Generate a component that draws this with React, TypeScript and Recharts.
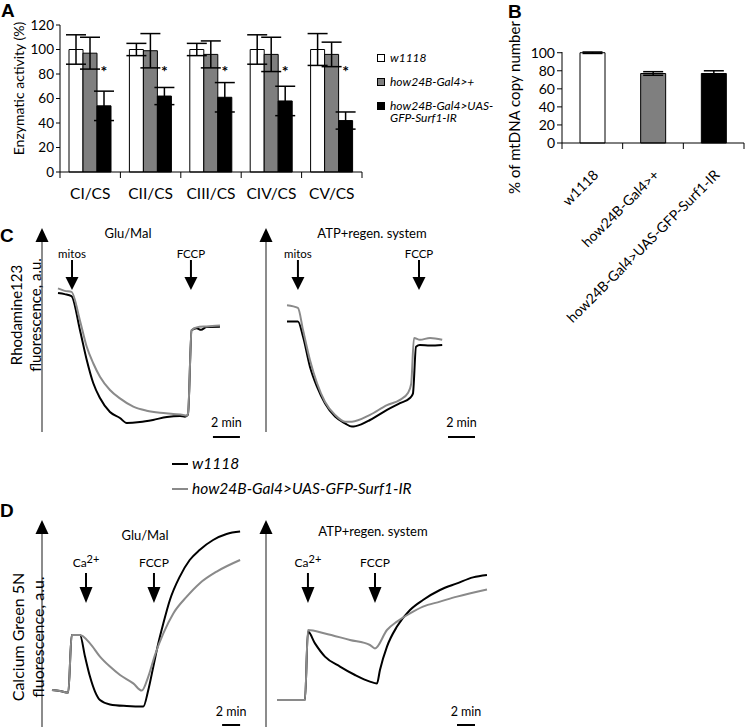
import React from "react";
import {
  BarChart, Bar, XAxis, YAxis, ErrorBar, Cell, LabelList, Legend,
  LineChart, Line, ReferenceLine
} from "recharts";

const FONT = "Lato, 'Open Sans', sans-serif";

// ---- A: enzymatic activity (% of control) ----
const complexes = ["CI/CS", "CII/CS", "CIII/CS", "CIV/CS", "CV/CS"];
const wtActivity = [100, 100, 100, 100, 100];
const wtErr = [12, 5, 5, 12, 13];
const gal4Activity = [97, 99, 96, 96, 96];
const gal4Err = [13, 14, 11, 14, 10];
const rnaiActivity = [54, 62, 61, 58, 42];
const rnaiErr = [12, 7, 12, 12, 7];
const SIG_LEVEL = 85;
const aTicks = [0, 20, 40, 60, 80, 100, 120];

const genotypes = ["w1118", "how24B-Gal4>+", "how24B-Gal4>UAS-GFP-Surf1-IR"];

// ---- B: mtDNA copy number ----
const mtdnaCopy = [100, 77, 77];
const mtdnaErr = [0.8, 2, 3];
const bTicks = [0, 20, 40, 60, 80, 100];
const barFills = ["#ffffff", "#7f7f7f", "#000000"];

// trace colours: w1118 black, RNAi gray
const traceColors = ["#000000", "#8a8a8a"];
const traceNames = [genotypes[0], genotypes[2]];

// ---- C: Rhodamine123 traces, [time min, a.u.] ----
const rhoGluBlack = [[0, 72.4], [0.5, 71.8], [1.0, 70.8], [1.63, 53], [2.13, 37.5], [2.61, 25.5], [3.11, 17.7], [3.85, 10.4], [4.59, 7.3], [5.09, 4.7], [6.07, 5.2], [7.04, 6.3], [8.07, 7.8], [9.04, 8.3], [9.41, 8], [9.63, 9], [9.9, 53], [10.27, 54], [10.6, 53.2], [11.01, 54.7], [12, 54.8]];
const rhoGluGray = [[0, 74.8], [0.5, 73.5], [1.0, 73], [1.63, 58], [2.13, 44.4], [2.61, 35.8], [3.11, 28.8], [3.85, 21.9], [4.59, 17.5], [5.58, 13.2], [6.57, 11.1], [7.56, 10], [8.54, 9.4], [9.28, 8.9], [9.5, 8.5], [9.63, 9.5], [9.9, 53], [10.27, 54.5], [11.01, 55], [12, 55.5]];
const rhoAtpBlack = [[0, 57.5], [0.81, 57.5], [1.19, 49.6], [1.7, 34], [2.22, 23.6], [2.81, 15], [3.56, 8], [4.3, 4.5], [4.81, 2.8], [5.5, 4], [6.15, 6.25], [7.41, 11.5], [8.37, 15], [9.11, 17.7], [9.33, 20], [9.56, 44.4], [9.85, 45.3], [10.6, 45], [11.5, 45.3]];
const rhoAtpGray = [[0, 66], [0.81, 64.6], [1.19, 53], [1.7, 37.5], [2.22, 25.5], [2.81, 15.8], [3.56, 8.9], [4.3, 5.4], [4.81, 5.4], [6.15, 8.9], [7.41, 14], [8.37, 16.7], [8.96, 20.3], [9.2, 25], [9.41, 49], [9.85, 48], [10.6, 49], [11.5, 48]];

// ---- D: Calcium Green 5N traces, [time min, a.u.] ----
const caGluBlack = [[0, 18.5], [0.89, 18], [1.81, 17.2], [2.19, 46], [3.11, 46], [3.67, 35.2], [4.22, 25.2], [4.78, 17.7], [5.33, 13.5], [6.44, 11.3], [8.3, 10.5], [10.14, 10.2], [10.7, 18.5], [11.26, 30.2], [11.81, 41.8], [12.37, 51.8], [13.1, 63.5], [14.2, 75.2], [15.3, 83.5], [16.4, 88.5], [17.9, 93.5], [19.4, 96.5], [20.9, 97.7]];
const caGluGray = [[0, 18.5], [0.89, 18], [1.81, 17.2], [2.19, 46], [3.11, 46], [4.22, 41.8], [5.33, 35.2], [6.44, 30.2], [7.56, 26], [9.03, 21.8], [9.97, 18.2], [10.7, 25.2], [11.44, 36], [12.37, 46.8], [13.48, 56.8], [14.97, 65.2], [16.4, 71.8], [18.3, 77.7], [20.9, 83.5]];
const caAtpBlack = [[0, 13.5], [3.11, 13.5], [3.44, 47.7], [4.22, 41.8], [5.33, 35.2], [7, 30.2], [8.67, 26], [10.33, 22.7], [11.11, 21.8], [11.44, 28.5], [12.22, 40.2], [13.33, 50.2], [14.78, 58.5], [16.22, 63.5], [18.11, 68.5], [20, 71.8], [21.78, 74.8], [23.33, 76]];
const caAtpGray = [[0, 13.5], [3.11, 13.5], [3.44, 48.5], [5.33, 46.8], [8.11, 43.5], [10.33, 41], [10.89, 39.3], [12.22, 48.5], [13.33, 52.7], [14.78, 56.8], [16.22, 60.2], [18.11, 62.7], [20, 65.2], [23.33, 68.8]];

const aData = complexes.map((c, i) => ({
  cat: c,
  wt: wtActivity[i], wtErr: wtErr[i],
  gal4: gal4Activity[i], gal4Err: gal4Err[i],
  rnai: rnaiActivity[i], rnaiErr: rnaiErr[i],
}));
const bData = genotypes.map((g, i) => ({ g, v: mtdnaCopy[i], err: mtdnaErr[i] }));
const toPts = (arr: number[][]) => arr.map(([t, v]) => ({ t, v }));

const A_BAND = 302 / complexes.length;
const B_BAND = 182 / genotypes.length;

const ATick = (props: any) => {
  const { x, y, payload, index } = props;
  return (
    <g>
      <line x1={x - A_BAND / 2} y1={y} x2={x - A_BAND / 2} y2={y + 6} stroke="#000" />
      {index === complexes.length - 1 && (
        <line x1={x + A_BAND / 2} y1={y} x2={x + A_BAND / 2} y2={y + 6} stroke="#000" />
      )}
      <text x={x} y={y + 21} textAnchor="middle" dominantBaseline="central" fontFamily={FONT} fontSize={15.5} fill="#000">
        {payload.value}
      </text>
    </g>
  );
};

const BTick = (props: any) => {
  const { x, y, payload, index } = props;
  const lx = x + 3, ly = y + 29;
  return (
    <g>
      <line x1={x - B_BAND / 2} y1={y} x2={x - B_BAND / 2} y2={y + 6} stroke="#000" />
      {index === genotypes.length - 1 && (
        <line x1={x + B_BAND / 2} y1={y} x2={x + B_BAND / 2} y2={y + 6} stroke="#000" />
      )}
      <text x={lx} y={ly} textAnchor="end" dominantBaseline="central" transform={`rotate(-45, ${lx}, ${ly})`}
        fontFamily={FONT} fontSize={14} fill="#000">
        {payload.value}
      </text>
    </g>
  );
};

// legends keep the series order of the figure
const barLegend = () => (
  <div style={{ fontFamily: FONT, fontStyle: "italic", fontSize: 12, lineHeight: "12px", color: "#000" }}>
    {genotypes.map((name, i) => (
      <div key={i} style={{ display: "flex", alignItems: "flex-start", marginBottom: 12 }}>
        <span style={{ width: 6, height: 6, background: barFills[i], border: "1px solid #000", marginTop: 2, marginRight: 5, flex: "none" }} />
        <span style={{ whiteSpace: "pre" }}>{name.replace("UAS-", "UAS-\n")}</span>
      </div>
    ))}
  </div>
);

const lineLegend = () => (
  <div style={{ fontFamily: FONT, fontStyle: "italic", fontSize: 15.5, lineHeight: "25px", color: "#000", whiteSpace: "nowrap" }}>
    {traceNames.map((name, i) => (
      <div key={i} style={{ display: "flex", alignItems: "center" }}>
        <span style={{ width: 16, height: 2, background: traceColors[i], marginRight: 4, flex: "none" }} />
        <span>{name}</span>
      </div>
    ))}
  </div>
);

const asterisk = (p: any) => {
  const vb = p.viewBox || p;
  const { x, y, width, height } = vb;
  const v = Number(p.value);
  if (!v) return null;
  const yy = y + height - (SIG_LEVEL * height) / v;
  return (
    <text x={x + width / 2} y={yy + 3} textAnchor="middle" dominantBaseline="central" fontFamily={FONT} fontSize={16} fontWeight="bold" fill="#000">*</text>
  );
};

type Geo = { text: number; shaft: number; head: number; tip: number; font: number };
const GEO_C: Geo = { text: 13, shaft: 20, head: 37, tip: 50, font: 11.5 };
const GEO_D: Geo = { text: 35, shaft: 46, head: 60, tip: 76, font: 12 };

const eventLabel = (label: string, g: Geo) => (props: any) => {
  const vb = props.viewBox || {};
  const x = vb.x, top = vb.y;
  return (
    <g>
      <text x={x} y={top + g.text} textAnchor="middle" dominantBaseline="central" fontFamily={FONT} fontSize={g.font} fill="#000">
        {label === "Ca2+" ? (<>Ca<tspan fontSize={g.font - 1} dy={-4}>2+</tspan></>) : label}
      </text>
      <line x1={x} y1={top + g.shaft} x2={x} y2={top + g.head} stroke="#000" strokeWidth={2} />
      <polygon points={`${x - 6.5},${top + g.head} ${x + 6.5},${top + g.head} ${x},${top + g.tip}`} fill="#000" />
    </g>
  );
};

const scaleLabel = (props: any) => {
  const vb = props.viewBox || {};
  return (
    <text x={vb.x + vb.width / 2} y={vb.y - 14} textAnchor="middle" dominantBaseline="central" fontFamily={FONT} fontSize={12.5} fill="#000">
      2 min
    </text>
  );
};

const axisArrow = (tipUp: number, lines?: string[], lineX?: number[], dy = 0, font = 15) => (props: any) => {
  const vb = props.viewBox || {};
  const ax = vb.x + vb.width;
  const top = vb.y;
  const cy = vb.y + vb.height / 2 + dy;
  return (
    <g>
      <polygon points={`${ax - 6.5},${top - tipUp + 14} ${ax + 6.5},${top - tipUp + 14} ${ax},${top - tipUp}`} fill="#000" />
      {lines && lines.map((s, i) => (
        <text key={i} x={vb.x + (lineX ? lineX[i] : 0)} y={cy} textAnchor="middle" dominantBaseline="central"
          transform={`rotate(-90, ${vb.x + (lineX ? lineX[i] : 0)}, ${cy})`} fontFamily={FONT} fontSize={font} fill="#000">
          {s}
        </text>
      ))}
    </g>
  );
};

type TraceProps = {
  left: number; top: number; width: number; height: number;
  mTop: number; mBottom: number;
  domain: [number, number];
  black: number[][]; gray: number[][];
  events: { t: number; label: string }[];
  bar: [number, number, number];
  geo: Geo; tipUp: number;
  yLabel?: string[]; labelX?: number[]; labelDy?: number; labelFont?: number;
  legend?: boolean;
};

const Trace = (p: TraceProps) => (
  <div style={{ position: "absolute", left: p.left, top: p.top }}>
    <LineChart width={p.width} height={p.height} margin={{ top: p.mTop, right: 10, left: 0, bottom: p.mBottom }}>
      <XAxis type="number" dataKey="t" domain={p.domain} hide allowDataOverflow />
      <YAxis type="number" domain={[0, 100]} allowDataOverflow width={42} tick={false} tickLine={false}
        axisLine={{ stroke: "#8c8c8c", strokeWidth: 2 }}
        label={axisArrow(p.tipUp, p.yLabel, p.labelX, p.labelDy, p.labelFont)} />
      {p.events.map((e, i) => (
        <ReferenceLine key={i} x={e.t} stroke="none" ifOverflow="visible" label={eventLabel(e.label, p.geo)} />
      ))}
      <ReferenceLine segment={[{ x: p.bar[0], y: p.bar[2] }, { x: p.bar[1], y: p.bar[2] }]} stroke="#000" strokeWidth={2}
        ifOverflow="visible" label={scaleLabel} />
      <Line data={toPts(p.black)} dataKey="v" name={traceNames[0]} type="monotone" stroke={traceColors[0]} strokeWidth={2} dot={false} isAnimationActive={false} />
      <Line data={toPts(p.gray)} dataKey="v" name={traceNames[1]} type="monotone" stroke={traceColors[1]} strokeWidth={2} dot={false} isAnimationActive={false} />
      {p.legend && (
        <Legend layout="vertical" align="center" verticalAlign="middle" content={lineLegend}
          wrapperStyle={{ left: 172, top: 231, width: 280 }} />
      )}
    </LineChart>
  </div>
);

const letter = (ch: string, left: number, top: number) => (
  <div style={{ position: "absolute", left, top, fontFamily: "'Liberation Sans', Arial, sans-serif", fontWeight: "bold", fontSize: 19, lineHeight: "19px" }}>{ch}</div>
);

const title = (s: string, cx: number, cy: number) => (
  <div style={{ position: "absolute", left: cx - 100, top: cy - 9, width: 200, textAlign: "center", fontFamily: FONT, fontSize: 13, lineHeight: "18px" }}>{s}</div>
);

export default function App() {
  return (
    <div style={{ position: "absolute", left: 0, top: 0, width: 745, height: 728, background: "#fff", overflow: "hidden" }}>
      {letter("A", 1, 1)}
      {letter("B", 508, 2)}
      {letter("C", 0, 226)}
      {letter("D", 0, 501)}

      <div style={{ position: "absolute", left: 0, top: 0 }}>
        <BarChart width={490} height={210} data={aData} margin={{ top: 25, right: 128, left: 0, bottom: 0 }} barGap={0} barSize={14}>
          <XAxis dataKey="cat" interval={0} tickLine={false} tickSize={0} tickMargin={0} axisLine={{ stroke: "#000" }} height={38} tick={<ATick />} />
          <YAxis type="number" domain={[0, 120]} ticks={aTicks} interval={0} width={60} tickSize={4} tickMargin={2}
            axisLine={{ stroke: "#000" }} tickLine={{ stroke: "#000" }}
            tick={{ fontFamily: FONT, fontSize: 13.5, fill: "#000" }}
            label={(props: any) => {
              const vb = props.viewBox || {};
              const cx = vb.x + 18, cy = vb.y + vb.height / 2 - 10;
              return (
                <text x={cx} y={cy} textAnchor="middle" dominantBaseline="central" transform={`rotate(-90, ${cx}, ${cy})`}
                  fontFamily={FONT} fontSize={14} fill="#000">Enzymatic activity (%)</text>
              );
            }} />
          <Bar dataKey="wt" name={genotypes[0]} fill={barFills[0]} stroke="#000" strokeWidth={1} isAnimationActive={false}>
            <ErrorBar dataKey="wtErr" width={10} stroke="#000" strokeWidth={1.5} direction="y" />
          </Bar>
          <Bar dataKey="gal4" name={genotypes[1]} fill={barFills[1]} stroke="#000" strokeWidth={1} isAnimationActive={false}>
            <ErrorBar dataKey="gal4Err" width={10} stroke="#000" strokeWidth={1.5} direction="y" />
          </Bar>
          <Bar dataKey="rnai" name={genotypes[2]} fill={barFills[2]} stroke="#000" strokeWidth={1} isAnimationActive={false}>
            <ErrorBar dataKey="rnaiErr" width={10} stroke="#000" strokeWidth={1.5} direction="y" />
            <LabelList dataKey="rnai" content={asterisk} />
          </Bar>
          <Legend layout="vertical" align="center" verticalAlign="middle" content={barLegend}
            wrapperStyle={{ left: 377, top: 52, width: 113 }} />
        </BarChart>
      </div>

      <div style={{ position: "absolute", left: 480, top: 0 }}>
        <BarChart width={265} height={340} data={bData} margin={{ top: 52, right: 1, left: 0, bottom: 0 }} barSize={25}>
          <XAxis dataKey="g" interval={0} tickLine={false} tickSize={0} tickMargin={0} axisLine={{ stroke: "#000" }} height={197} tick={<BTick />} />
          <YAxis type="number" domain={[0, 100]} ticks={bTicks} interval={0} width={82} tickSize={5} tickMargin={2}
            axisLine={{ stroke: "#000" }} tickLine={{ stroke: "#000" }}
            tick={{ fontFamily: FONT, fontSize: 14, fill: "#000" }}
            label={(props: any) => {
              const vb = props.viewBox || {};
              const cx = vb.x + 34, cy = vb.y + vb.height / 2 + 10;
              return (
                <text x={cx} y={cy} textAnchor="middle" dominantBaseline="central" transform={`rotate(-90, ${cx}, ${cy})`}
                  fontFamily={FONT} fontSize={15} fill="#000">% of mtDNA copy number</text>
              );
            }} />
          <Bar dataKey="v" stroke="#000" strokeWidth={1} isAnimationActive={false}>
            {bData.map((_, i) => <Cell key={i} fill={barFills[i]} />)}
            <ErrorBar dataKey="err" width={10} stroke="#000" strokeWidth={1.5} direction="y" />
          </Bar>
        </BarChart>
      </div>

      {title("Glu/Mal", 128, 233)}
      {title("ATP+regen. system", 372, 233)}
      {title("Glu/Mal", 145, 535)}
      {title("ATP+regen. system", 373, 531)}

      <Trace left={0} top={220} width={261} height={230} mTop={20} mBottom={18} domain={[-1.185, 14.3]}
        black={rhoGluBlack} gray={rhoGluGray}
        events={[{ t: 1.04, label: "mitos" }, { t: 9.85, label: "FCCP" }]}
        bar={[11.48, 13.48, -2.6]} geo={GEO_C} tipUp={12}
        yLabel={["Rhodamine123", "fluorescence, a.u."]} labelX={[16, 35]} labelDy={-21} labelFont={15} legend />
      <Trace left={224} top={220} width={266} height={230} mTop={20} mBottom={18} domain={[-1.556, 14.3]}
        black={rhoAtpBlack} gray={rhoAtpGray}
        events={[{ t: 0.81, label: "mitos" }, { t: 9.78, label: "FCCP" }]}
        bar={[11.93, 13.93, -2.6]} geo={GEO_C} tipUp={12} />
      <Trace left={0} top={500} width={260} height={228} mTop={27} mBottom={1} domain={[-1.11, 22]}
        black={caGluBlack} gray={caGluGray}
        events={[{ t: 3.78, label: "Ca2+" }, { t: 11.33, label: "FCCP" }]}
        bar={[18.9, 20.9, 1]} geo={GEO_D} tipUp={7}
        yLabel={["Calcium Green 5N", "fluorescence, a.u."]} labelX={[17, 37]} labelDy={10} labelFont={16} />
      <Trace left={224} top={500} width={279} height={228} mTop={27} mBottom={1} domain={[-1.22, 24]}
        black={caAtpBlack} gray={caAtpGray}
        events={[{ t: 3.44, label: "Ca2+" }, { t: 10.89, label: "FCCP" }]}
        bar={[20, 22, 1]} geo={GEO_D} tipUp={7} />
    </div>
  );
}
